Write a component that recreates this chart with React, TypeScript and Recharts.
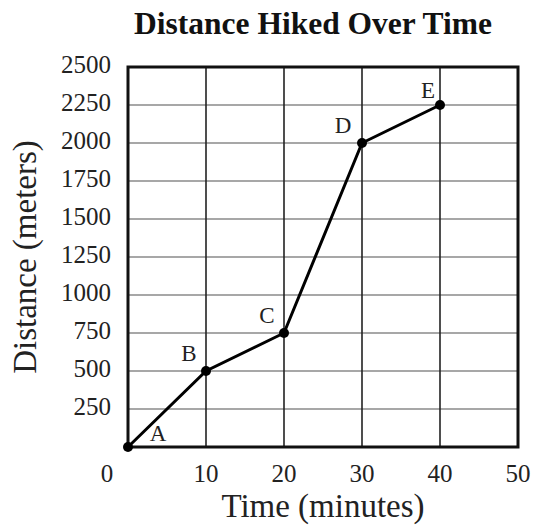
import React from 'react';
import {
  LineChart,
  Line,
  XAxis,
  YAxis,
  CartesianGrid,
  ReferenceArea,
  LabelList,
} from 'recharts';

const times = [0, 10, 20, 30, 40];
const distances = [0, 500, 750, 2000, 2250];
const pointNames = ['A', 'B', 'C', 'D', 'E'];
const xTicks = [0, 10, 20, 30, 40, 50];
const yTicks = [0, 250, 500, 750, 1000, 1250, 1500, 1750, 2000, 2250, 2500];

const data = times.map((t, i) => ({ time: t, distance: distances[i], name: pointNames[i] }));

const FONT = '"Liberation Serif", "Times New Roman", serif';

// where each point letter sits relative to its dot
const labelOffsets: Record<string, [number, number]> = {
  A: [30, -11],
  B: [-17, -15],
  C: [-17, -15],
  D: [-19, -15],
  E: [-12, -12],
};

const XTick = (props: any) => {
  const { x, y, payload } = props;
  const dx = payload.value === 0 ? -21 : 0;
  return (
    <text x={x + dx} y={y + 21} textAnchor="middle" dominantBaseline="middle" fontFamily={FONT} fontSize={25} fill="#222">
      {payload.value}
    </text>
  );
};

const YTick = (props: any) => {
  const { x, y, payload } = props;
  if (payload.value === 0) return null;
  return (
    <text x={x} y={y} textAnchor="end" dominantBaseline="middle" fontFamily={FONT} fontSize={25} fill="#222">
      {payload.value}
    </text>
  );
};

const PointLabel = (props: any) => {
  const { x, y, value } = props;
  const [dx, dy] = labelOffsets[value] || [0, 0];
  return (
    <text x={x + dx} y={y + dy} textAnchor="middle" dominantBaseline="middle" fontFamily={FONT} fontSize={23} fill="#222">
      {value}
    </text>
  );
};

export default function App() {
  return (
    <div style={{ position: 'absolute', left: 0, top: 0, width: 536, height: 529, background: '#fff' }}>
      <div
        style={{
          position: 'absolute',
          left: 0,
          width: 626,
          top: 6,
          textAlign: 'center',
          fontFamily: FONT,
          fontWeight: 'bold',
          fontSize: 31.5,
          color: '#111',
          lineHeight: '36px',
        }}
      >
        Distance Hiked Over Time
      </div>
      <LineChart width={536} height={529} data={data} margin={{ top: 67, right: 18, bottom: 52, left: 68 }}>
        <CartesianGrid stroke="#8a8a8a" strokeWidth={1.6} vertical={false} />
        <CartesianGrid stroke="#222" strokeWidth={1.6} horizontal={false} />
        <XAxis
          dataKey="time"
          type="number"
          domain={[0, 50]}
          ticks={xTicks}
          tick={<XTick />}
          tickLine={false}
          axisLine={false}
          height={30}
          label={{ value: 'Time (minutes)', position: 'bottom', offset: 17, fontFamily: FONT, fontSize: 33, fill: '#222' }}
        />
        <YAxis
          type="number"
          domain={[0, 2500]}
          ticks={yTicks}
          tick={<YTick />}
          tickLine={false}
          axisLine={false}
          width={60}
          tickMargin={11}
          label={{ value: 'Distance (meters)', angle: -90, position: 'insideLeft', dx: -49, dy: 0, fontFamily: FONT, fontSize: 33, fill: '#222', style: { textAnchor: 'middle' } }}
        />
        <ReferenceArea x1={0} x2={50} y1={0} y2={2500} fill="none" fillOpacity={0} stroke="#111" strokeWidth={3} ifOverflow="visible" />
        <Line
          dataKey="distance"
          stroke="#000"
          strokeWidth={3}
          dot={{ r: 5, fill: '#000', stroke: '#000', strokeWidth: 0 }}
          isAnimationActive={false}
        >
          <LabelList dataKey="name" content={<PointLabel />} />
        </Line>
      </LineChart>
    </div>
  );
}
